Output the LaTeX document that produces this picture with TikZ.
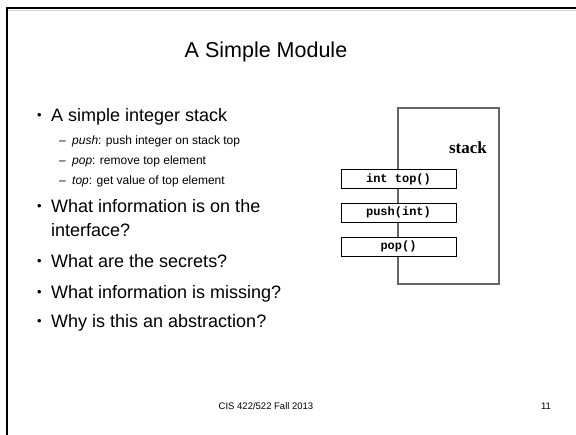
\documentclass[tikz,border=0pt]{standalone}
\usepackage{fontspec}
\setmainfont{Liberation Sans}
\newfontfamily\serifface{Liberation Serif}
\newfontfamily\codeface{Liberation Mono}
\usepackage{tikz}
\usetikzlibrary{positioning}

\tikzset{
    lvlone/.style={anchor=base west, inner sep=0pt, font=\fontsize{18}{22}\selectfont},
    lvltwo/.style={anchor=base west, inner sep=0pt, font=\fontsize{12}{14}\selectfont},
    dot/.style={anchor=base west, inner sep=0pt, font=\fontsize{13}{15}\selectfont},
    method/.style={draw, fill=white, line width=0.8pt, minimum width=115pt, minimum height=19pt, inner sep=0pt, font=\codeface\bfseries\fontsize{12}{14}\selectfont},
    foot/.style={inner sep=0pt, font=\fontsize{9.5}{11}\selectfont}
}

\begin{document}
\begin{tikzpicture}[x=1pt, y=-1pt]
            \useasboundingbox (0,0) rectangle (576,435);
            \draw[gray!35, line width=0.6pt] (8,10.5) -- (576,10.5);
            \draw[line width=2.5pt] (7,435) -- (7,8) -- (576,8);

            \node (title) at (266,52) {\fontsize{21.5}{26}\selectfont A Simple Module};

            \node (d1) [dot] at (37,120) {•};
            \node (simple) [lvlone] at (51,122) {A simple integer stack};
            \node (push) [lvltwo] at (59,145) {\makebox[13pt][l]{–}\textit{push}: push integer on stack top};
            \node (pop) [lvltwo] at (59,165) {\makebox[13pt][l]{–}\textit{pop}: remove top element};
            \node (top) [lvltwo] at (59,185) {\makebox[13pt][l]{–}\textit{top}: get value of top element};
            \node (d2) [dot] at (37,211) {•};
            \node (info) [lvlone] at (51,213) {What information is on the};
            \node (iface) [lvlone] at (51,237) {interface?};
            \node (d3) [dot] at (37,266) {•};
            \node (secrets) [lvlone] at (51,268) {What are the secrets?};
            \node (d4) [dot] at (37,297) {•};
            \node (missing) [lvlone] at (51,299) {What information is missing?};
            \node (d5) [dot] at (37,326) {•};
            \node (abstr) [lvlone] at (51,328) {Why is this an abstraction?};

            \draw[black!60, line width=1.2pt] (398,108) rectangle (499,284);
            \node (stack) at (468,148) {\serifface\bfseries\fontsize{17}{20}\selectfont stack};
            \node (mtop) [method] at (398.5,179) {int top()};
            \node (mpush) [method, below=14pt of mtop] {push(int)};
            \node (mpop) [method, below=14pt of mpush] {pop()};

            \node (footer) [foot] at (266,406) {CIS 422/522 Fall 2013};
            \node (pagenum) [foot] at (546,406) {11};
        \end{tikzpicture}
\end{document}
